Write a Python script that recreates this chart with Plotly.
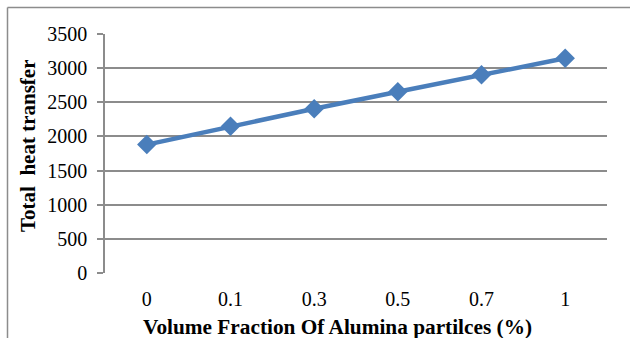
import plotly.graph_objects as go

categories = ["0", "0.1", "0.3", "0.5", "0.7", "1"]
heat_transfer = [1880, 2150, 2405, 2655, 2905, 3145]
y_ticks = [0, 500, 1000, 1500, 2000, 2500, 3000, 3500]

font_family = "Liberation Serif"
grid_color = "#8c8c8c"
blue = "#4a7ebb"

fig = go.Figure()
fig.add_trace(go.Scatter(
    x=categories, y=heat_transfer, mode="lines+markers",
    line=dict(color=blue, width=4.5),
    marker=dict(symbol="diamond", size=15, color=blue),
    showlegend=False,
))

W, H = 630, 338
L, R, T, B = 105, 23, 34, 65
pw = W - L - R
ph = H - T - B


def px_x(px):
    return (px - L) / pw


def px_y(py):
    return (H - B - py) / ph


fig.update_layout(
    width=W, height=H,
    margin=dict(l=L, r=R, t=T, b=B, autoexpand=False),
    paper_bgcolor="white", plot_bgcolor="white",
    font=dict(family=font_family, size=20, color="black"),
    xaxis=dict(
        type="category", range=[-0.5, 5.5], showgrid=False, zeroline=False,
        showline=False, ticks="", ticklabelstandoff=12,
        tickfont=dict(size=20),
    ),
    yaxis=dict(
        range=[0, 3500], tickvals=y_ticks, showgrid=True,
        gridcolor=grid_color, gridwidth=1.5, zeroline=False,
        showline=True, linecolor=grid_color, linewidth=1.5,
        ticks="outside", ticklen=6, tickcolor=grid_color, tickwidth=1.5,
        ticklabelstandoff=6,
        tickfont=dict(size=20),
    ),
    annotations=[
        dict(text="<b>Volume Fraction Of Alumina partilces (%)</b>",
             xref="paper", yref="paper", x=px_x(337.5), y=px_y(327),
             xanchor="center", yanchor="middle", showarrow=False,
             font=dict(size=21.3)),
        dict(text="<b>Total\u00a0 heat transfer</b>",
             xref="paper", yref="paper", x=px_x(27.5), y=px_y(146.5),
             xanchor="center", yanchor="middle", showarrow=False,
             textangle=-90, font=dict(size=21)),
    ],
)

# outer frame lines (top & left) of the chart area
bx = px_x(7.5)
by = px_y(7.5)
fig.add_shape(type="line", xref="paper", yref="paper", x0=bx, x1=1.2, y0=by, y1=by,
              line=dict(color=grid_color, width=1.5))
fig.add_shape(type="line", xref="paper", yref="paper", x0=bx, x1=bx, y0=-0.4, y1=by,
              line=dict(color=grid_color, width=1.5))

fig.write_html("out.html")
